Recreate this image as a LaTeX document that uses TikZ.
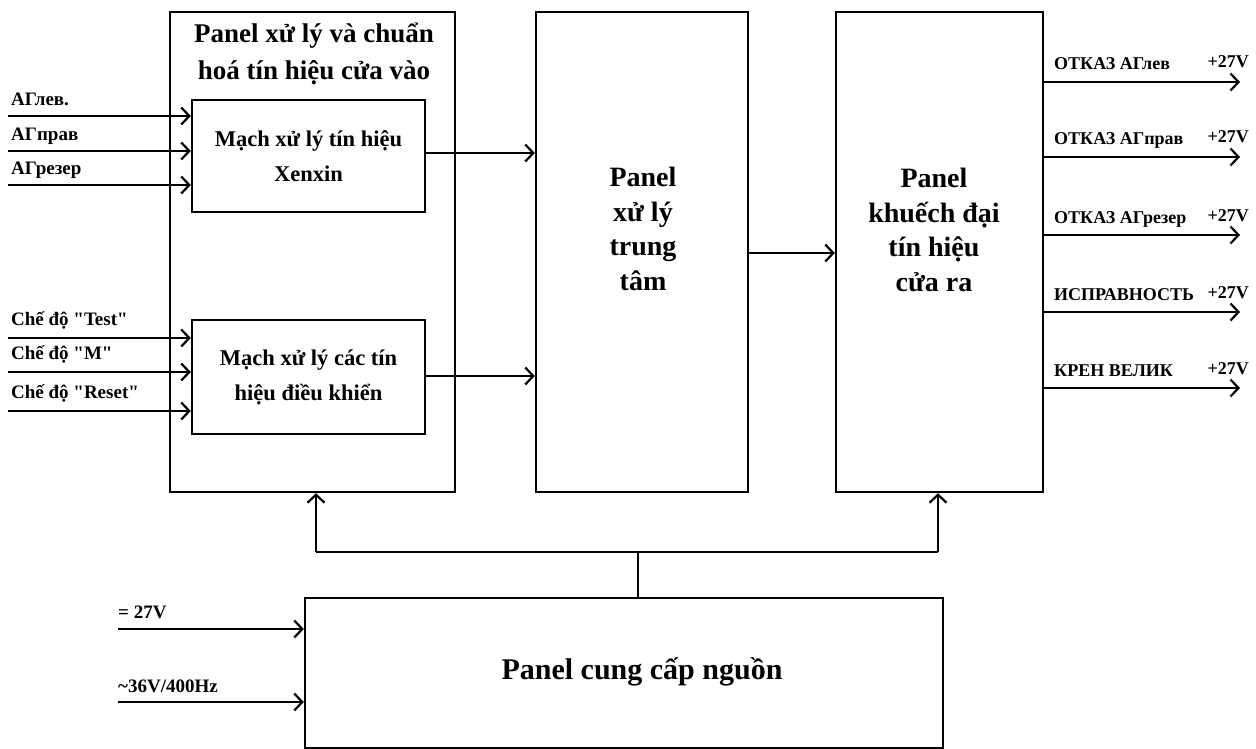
\documentclass[tikz,border=0pt]{standalone}
\usepackage{fontspec}
\setmainfont{Liberation Serif}
\usetikzlibrary{arrows.meta}
\begin{document}
\begin{tikzpicture}[x=1pt,y=-1pt,
  box/.style={draw, line width=2.4pt, inner sep=0pt},
  arr/.style={-{Straight Barb[length=8pt,width=17pt,line width=2.2pt]}, line width=2.4pt},
  ln/.style={line width=2.4pt},
  lbl/.style={font=\bfseries\fontsize{19}{22}\selectfont, anchor=base west, inner sep=0pt},
  olbl/.style={font=\bfseries\fontsize{18}{22}\selectfont, anchor=base west, inner sep=0pt},
  big/.style={font=\bfseries\fontsize{28}{34.5}\selectfont, align=center},
  mid/.style={font=\bfseries\fontsize{27}{37}\selectfont, align=center},
  sub/.style={font=\bfseries\fontsize{22.5}{35}\selectfont, align=center}]
\useasboundingbox (0,0) rectangle (1256,749);
% boxes
\node[box, minimum width=285pt, minimum height=480pt] (lp) at (312.5,252) {};
\node[mid] (lpt) at (314,54) {Panel xử lý và chuẩn\\hoá tín hiệu cửa vào};
\node[box, minimum width=233pt, minimum height=112pt, sub] (xen) at (308.5,156) {Mạch xử lý tín hiệu\\Xenxin};
\node[box, minimum width=233pt, minimum height=114pt, sub] (ctl) at (308.5,377) {Mạch xử lý các tín\\hiệu điều khiển};
\node[box, minimum width=212pt, minimum height=480pt] (cen) at (642,252) {};
\node[big] (cent) at (643,229) {Panel\\xử lý\\trung\\tâm};
\node[box, minimum width=207pt, minimum height=480pt] (rp) at (939.5,252) {};
\node[big] (rpt) at (934,230) {Panel\\khuếch đại\\tín hiệu\\cửa ra};
\node[box, minimum width=638pt, minimum height=150pt] (pw) at (624,673) {};
\node[font=\bfseries\fontsize{30}{34}\selectfont] (pwt) at (642,672) {Panel cung cấp nguồn};
% sensor inputs
\foreach \y/\t/\n in {116/АГлев./a,151/АГправ/b,185/АГрезер/c}{
  \coordinate (i\n) at (8,\y);
  \draw[arr] (i\n) -- (i\n -| xen.west);
  \node[lbl] (l\n) at (11,\y-10) {\t};
}
\foreach \y/\t/\n in {338/{Chế độ \textquotedbl Test\textquotedbl}/d,372/{Chế độ \textquotedbl M\textquotedbl}/e,411/{Chế độ \textquotedbl Reset\textquotedbl}/f}{
  \coordinate (i\n) at (8,\y);
  \draw[arr] (i\n) -- (i\n -| ctl.west);
  \node[lbl] (l\n) at (11,\y-13) {\t};
}
% internal connectors
\coordinate (xo) at (425,153);
\draw[arr] (xo) -- (xo -| cen.west);
\coordinate (co) at (425,376);
\draw[arr] (co) -- (co -| cen.west);
\draw[arr] (cen.east |- 0,253) -- (rp.west |- 0,253);
% outputs
\foreach \y/\t/\n in {82/ОТКАЗ АГлев/o1,157/ОТКАЗ АГправ/o2,235/ОТКАЗ АГрезер/o3,312/ИСПРАВНОСТЬ/o4,388/КРЕН ВЕЛИК/o5}{
  \coordinate (\n) at (1240,\y);
  \draw[arr] (\n -| rp.east) -- (\n);
  \node[olbl] (t\n) at (1054,\y-12) {\t};
  \node[olbl, anchor=base east] (v\n) at (1249,\y-14) {+27V};
}
% power bus
\coordinate (bus) at (638,552);
\coordinate (bl) at (316,552);
\coordinate (br) at (938,552);
\draw[ln] (bus |- pw.north) -- (bus);
\draw[ln] (bl) -- (br);
\draw[arr] (bl) -- (bl |- lp.south);
\draw[arr] (br) -- (br |- rp.south);
% power inputs
\coordinate (p1) at (118,629);
\coordinate (p2) at (118,702);
\draw[arr] (p1) -- (p1 -| pw.west);
\draw[arr] (p2) -- (p2 -| pw.west);
\node[lbl] (lp1) at (118,618) {= 27V};
\node[lbl] (lp2) at (118,692) {\textasciitilde 36V/400Hz};
\end{tikzpicture}
\end{document}
